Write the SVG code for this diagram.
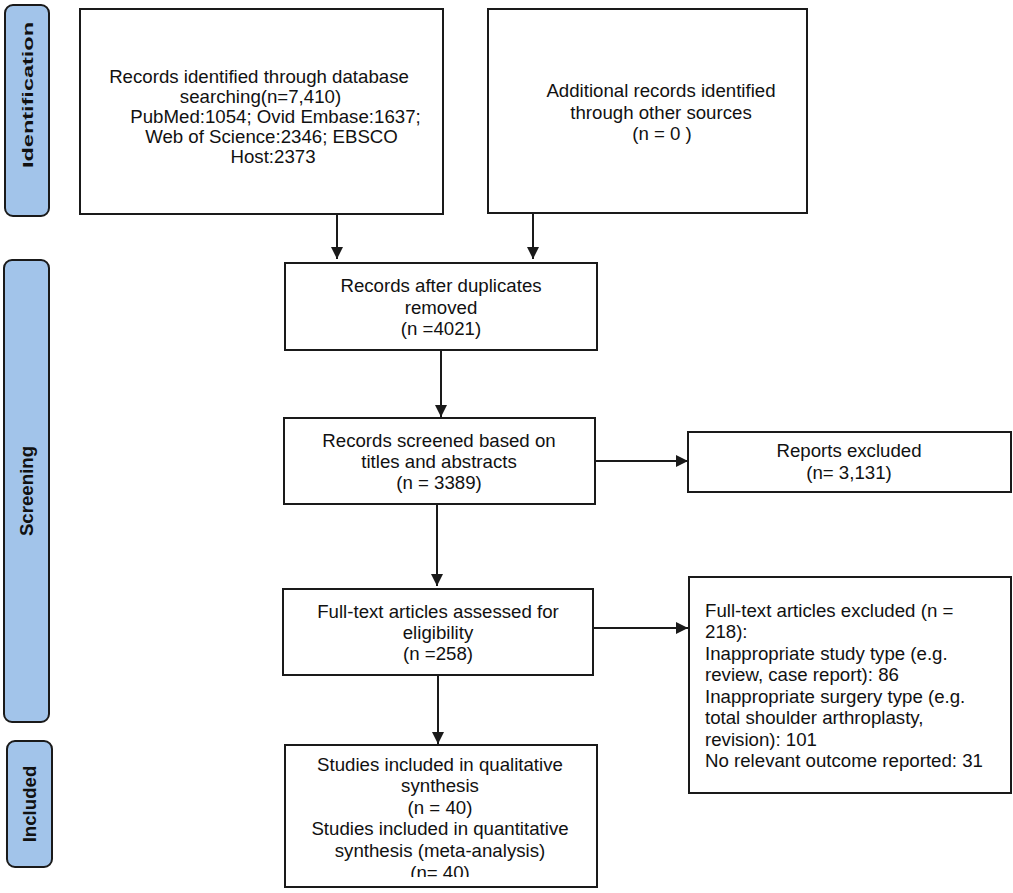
<svg xmlns="http://www.w3.org/2000/svg" width="1013" height="893" viewBox="0 0 1013 893">
<style>
.box{fill:#ffffff;stroke:#1a1a1a;stroke-width:2}
.bar{fill:#a2c4ea;stroke:#1a1a1a;stroke-width:2}
.t{font-family:"Liberation Sans",Arial,sans-serif;font-size:18.67px;fill:#111111;text-anchor:middle}
.tl{font-family:"Liberation Sans",Arial,sans-serif;font-size:18.67px;fill:#111111;text-anchor:start}
.bt{font-family:"Liberation Sans",Arial,sans-serif;font-size:18.67px;font-weight:bold;fill:#111111;text-anchor:middle}
.c{stroke:#1a1a1a;stroke-width:2;fill:none}
</style>
<defs>
<marker id="ah" markerUnits="userSpaceOnUse" markerWidth="13" markerHeight="12" refX="12" refY="6" orient="auto">
<path d="M0,0 L12,6 L0,12 z" fill="#1a1a1a"/>
</marker>
<clipPath id="clip7"><rect x="285" y="745" width="312" height="132"/></clipPath>
</defs>
<rect width="1013" height="893" fill="#ffffff"/>

<g id="bar-identification">
<rect class="bar" x="5" y="5" width="44" height="211" rx="8"/>
<text class="bt" transform="translate(33.3,95) rotate(-90)" font-size="15" style="font-size:15px" textLength="146" lengthAdjust="spacingAndGlyphs">Identification</text>
</g>
<g id="bar-screening">
<rect class="bar" x="4" y="260" width="45" height="462" rx="8"/>
<text class="bt" transform="translate(33.2,491) rotate(-90)">Screening</text>
</g>
<g id="bar-included">
<rect class="bar" x="7" y="741" width="45" height="126" rx="8"/>
<text class="bt" transform="translate(36,804) rotate(-90)">Included</text>
</g>

<g id="node-database">
<rect class="box" x="80" y="9" width="363" height="205"/>
<text class="t" x="259" y="83">Records identified through database</text>
<text class="t" x="260.5" y="103">searching(n=7,410)</text>
<text class="t" x="275.5" y="122.5">PubMed:1054; Ovid Embase:1637;</text>
<text class="t" x="271.5" y="142.5">Web of Science:2346; EBSCO</text>
<text class="t" x="273" y="162.5">Host:2373</text>
</g>
<g id="node-other">
<rect class="box" x="488" y="9" width="319" height="204"/>
<text class="t" x="661" y="97">Additional records identified</text>
<text class="t" x="661" y="118.5">through other sources</text>
<text class="t" x="662" y="140">(n = 0 )</text>
</g>
<g id="node-duplicates">
<rect class="box" x="285" y="263" width="312" height="87"/>
<text class="t" x="441" y="292">Records after duplicates</text>
<text class="t" x="441" y="313.5">removed</text>
<text class="t" x="441" y="335">(n =4021)</text>
</g>
<g id="node-screened">
<rect class="box" x="284" y="418" width="311" height="86"/>
<text class="t" x="439" y="447">Records screened based on</text>
<text class="t" x="439" y="468">titles and abstracts</text>
<text class="t" x="439" y="489">(n = 3389)</text>
</g>
<g id="node-reports-excluded">
<rect class="box" x="688" y="432" width="323" height="60"/>
<text class="t" x="849" y="457">Reports excluded</text>
<text class="t" x="849" y="478.5">(n= 3,131)</text>
</g>
<g id="node-fulltext">
<rect class="box" x="283" y="589" width="310" height="86"/>
<text class="t" x="438" y="617.5">Full-text articles assessed for</text>
<text class="t" x="438" y="638.5">eligibility</text>
<text class="t" x="438" y="660">(n =258)</text>
</g>
<g id="node-fulltext-excluded">
<rect class="box" x="689" y="577" width="322" height="216"/>
<text class="tl" x="705" y="616.5">Full-text articles excluded (n =</text>
<text class="tl" x="705" y="638">218):</text>
<text class="tl" x="705" y="659.5">Inappropriate study type (e.g.</text>
<text class="tl" x="705" y="681">review, case report): 86</text>
<text class="tl" x="705" y="702.5">Inappropriate surgery type (e.g.</text>
<text class="tl" x="705" y="724">total shoulder arthroplasty,</text>
<text class="tl" x="705" y="745.5">revision): 101</text>
<text class="tl" x="705" y="767">No relevant outcome reported: 31</text>
</g>
<g id="node-included">
<rect class="box" x="285" y="745" width="312" height="142"/>
<g clip-path="url(#clip7)">
<text class="t" x="440" y="771">Studies included in qualitative</text>
<text class="t" x="440" y="792">synthesis</text>
<text class="t" x="440" y="813.5">(n = 40)</text>
<text class="t" x="440" y="835">Studies included in quantitative</text>
<text class="t" x="440" y="856.5">synthesis (meta-analysis)</text>
<text class="t" x="440" y="879">(n= 40)</text>
</g>
</g>

<g id="connectors">
<line class="c" x1="337" y1="214" x2="337" y2="259" marker-end="url(#ah)"/>
<line class="c" x1="533" y1="213" x2="533" y2="259" marker-end="url(#ah)"/>
<line class="c" x1="441" y1="350" x2="441" y2="417" marker-end="url(#ah)"/>
<line class="c" x1="595" y1="461" x2="688" y2="461" marker-end="url(#ah)"/>
<line class="c" x1="437" y1="504" x2="437" y2="586" marker-end="url(#ah)"/>
<line class="c" x1="593" y1="628" x2="688" y2="628" marker-end="url(#ah)"/>
<line class="c" x1="438" y1="675" x2="438" y2="744" marker-end="url(#ah)"/>
</g>
</svg>
